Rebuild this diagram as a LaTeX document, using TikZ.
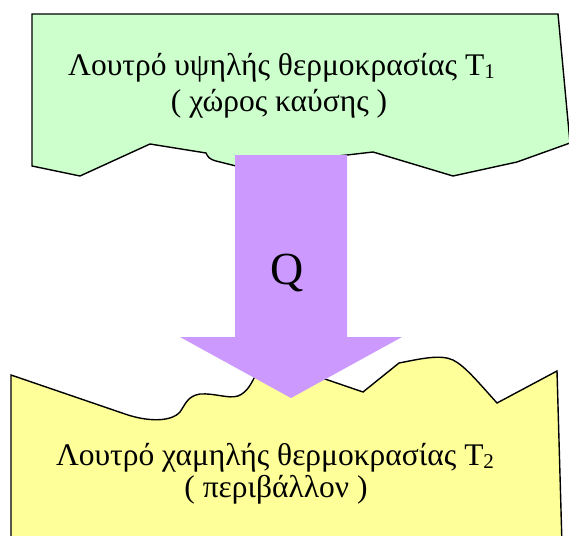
\documentclass[tikz,border=0pt]{standalone}
\usepackage{fontspec}
\setmainfont{Liberation Serif}
\definecolor{hotgreen}{HTML}{CCFFCC}
\definecolor{coldyellow}{HTML}{FFFF99}
\definecolor{flowpurple}{HTML}{CC99FF}
\tikzset{
  bath/.style={draw=black, line width=1.4pt, line join=miter},
  lbl/.style={anchor=base, inner sep=0pt, font=\fontsize{31.5}{31.5}\selectfont},
  qlbl/.style={anchor=base, inner sep=0pt, font=\fontsize{46}{46}\selectfont},
}
\newcommand{\subidx}[1]{\raisebox{-0.12em}{\fontsize{21}{21}\selectfont #1}}
\begin{document}
\begin{tikzpicture}[x=1pt, y=-1pt]
\clip (0,0) rectangle (569,535);
\fill[white] (0,0) rectangle (569,535);
% hot bath
\path[bath, fill=hotgreen] (32,14) -- (558,14) -- (570,143) -- (517,162) -- (453,176)
  -- (373,152) -- (347,155) -- (236,166) -- (216,161)
  .. controls (209,159) and (208,157) .. (206,153) -- (150,144) -- (80,176) -- (32,166) -- cycle;
% cold bath
\path[bath, fill=coldyellow] (11,375) -- (125,414)
  .. controls (145,421) and (170,423) .. (180,412)
  .. controls (186,403) and (188,396) .. (200,394)
  .. controls (215,393) and (228,399) .. (238,396)
  .. controls (248,392) and (252,382) .. (256,374)
  -- (290,368) -- (325,379) -- (363,392) -- (399,363)
  .. controls (420,359) and (440,354) .. (453,360)
  .. controls (465,366) and (478,382) .. (497,403)
  -- (557,371) -- (562,545) -- (11,545) -- cycle;
% heat flow arrow
\fill[flowpurple] (235,155) -- (347,155) -- (347,337) -- (402,337) -- (291,398)
  -- (180,337) -- (235,337) -- cycle;
\node[qlbl] (q) at (287,284) {Q};
\node[lbl] (hot1) at (281.5,75) {Λουτρό υψηλής θερμοκρασίας T\subidx{1}};
\node[lbl] (hot2) at (279,111) {( χώρος καύσης )};
\node[lbl] (cold1) at (275,465) {Λουτρό χαμηλής θερμοκρασίας T\subidx{2}};
\node[lbl] (cold2) at (276,497) {( περιβάλλον )};
\end{tikzpicture}
\end{document}
